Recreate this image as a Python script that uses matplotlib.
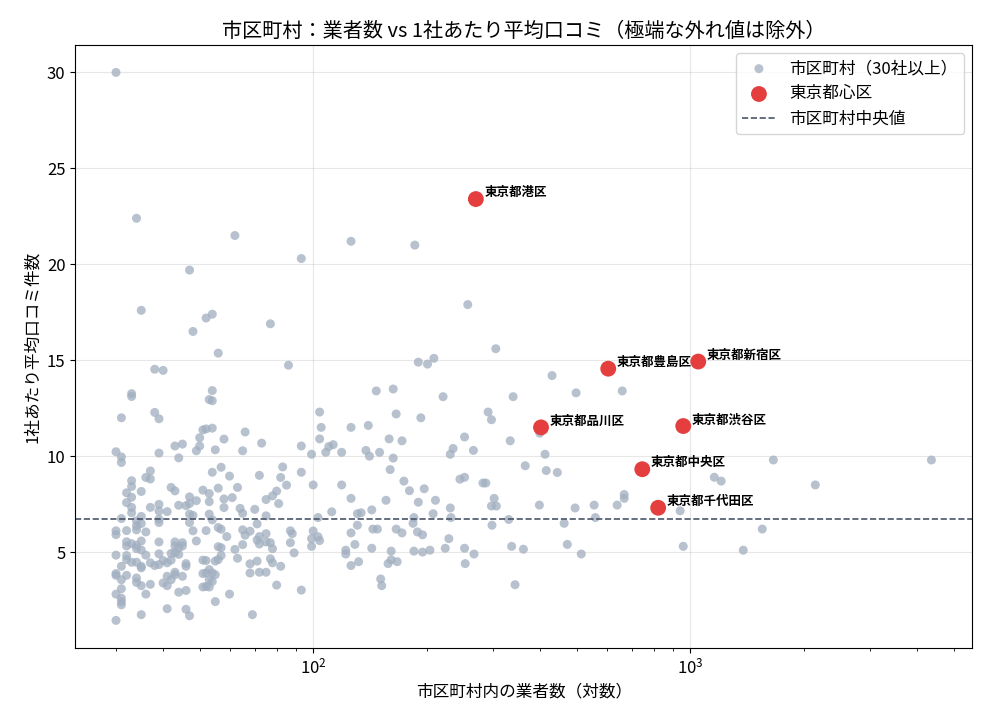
import numpy as np
import matplotlib
matplotlib.use("Agg")
import matplotlib.pyplot as plt

plt.rcParams['font.family'] = ['Noto Sans CJK JP', 'DejaVu Sans']
plt.rcParams['font.size'] = 12

# 市区町村（30社以上）: 業者数 と 1社あたり平均口コミ件数
shop_counts = [
    30, 34, 62, 93, 47, 35, 52, 54, 48, 77,
    56, 86, 38, 40, 33, 33, 54, 53, 54, 31, 38, 39, 51, 52, 54, 50, 58, 66, 73,
    30, 31, 31, 39, 43, 45, 44, 49, 50, 55, 65, 93, 37, 36, 37, 33, 33, 32, 33, 35,
    54, 57, 60, 72, 83, 82, 85, 93, 42, 43, 32, 33, 33, 31, 37, 39, 39, 41, 44, 46,
    47, 47, 49, 51, 53, 53, 56, 58, 58, 61, 63, 64, 65, 70, 75, 78, 80, 81, 75,
    35, 34, 34, 35, 34, 30, 30, 32, 36, 39, 39, 47, 48, 47, 48, 53, 54, 52, 56, 57,
    59, 65, 66, 68, 71, 75, 72, 87, 88, 87, 32, 32, 33, 34, 34, 35, 35, 30, 32, 32,
    33, 34, 35, 39, 39, 36, 43, 43, 45, 44, 45, 43, 42, 44, 49, 56, 57, 57, 56, 55,
    62, 65, 63, 71, 72, 75, 77, 78, 89, 31, 30, 30, 32, 31, 34, 34, 35, 35, 37, 38,
    39, 40, 41, 42, 46, 46, 51, 52, 51, 53, 52, 54, 55, 53, 54, 52, 53, 51, 68, 71,
    68, 72, 75, 77, 78, 82, 41, 43, 43, 45, 42, 40, 41, 37, 36, 30, 31, 31, 31, 31,
    44, 46, 55, 60, 80, 93, 41, 46, 47, 35, 30, 69,
    126, 186, 257, 305, 190, 201, 209, 147, 163, 221, 104, 105, 104, 126, 140, 166,
    193, 291, 297, 252, 159, 172,
    99, 108, 110, 113, 119, 138, 141, 150, 163, 160, 231, 235, 266, 100, 119, 126,
    112, 103, 100, 99, 103, 104, 99, 131, 134, 143, 156, 131, 126, 144, 148, 166,
    172, 129, 122, 122, 126, 132, 143, 161, 161, 158, 167, 151, 152, 174, 180, 197,
    190, 211, 185, 184, 189, 195, 185, 195, 204, 208, 231, 232, 245, 252, 282, 287,
    302, 297, 306, 298, 229, 224, 252, 267, 253,
    430, 339, 498, 660, 399, 333, 412, 365, 415, 444, 1661, 4360, 1158, 1208, 2146,
    668, 668, 640, 556, 495, 398, 940, 330, 463, 560, 1552, 336, 361, 472, 514, 958,
    1382, 343,
]
avg_reviews = [
    30.0, 22.4, 21.5, 20.3, 19.7, 17.6, 17.2, 17.4, 16.5, 16.9,
    15.37, 14.74, 14.53, 14.47, 13.26, 13.11, 13.42, 12.95, 12.89, 12.0, 12.28, 11.95,
    11.37, 11.42, 11.46, 10.96, 10.89, 11.26, 10.68,
    10.23, 9.96, 9.67, 10.16, 10.53, 10.63, 9.91, 10.28, 10.53, 10.33, 10.28, 10.53,
    9.23, 8.89, 8.81, 8.72, 8.42, 8.09, 7.86, 8.16,
    9.16, 9.42, 8.96, 9.0, 9.44, 8.89, 8.49, 9.16, 8.37, 8.19, 7.58, 7.33, 7.05, 6.75,
    7.33, 7.49, 7.14, 7.11, 7.44, 7.42,
    7.88, 7.53, 7.68, 8.23, 8.05, 7.63, 8.33, 7.77, 7.32, 7.84, 8.37, 7.28, 7.02, 7.23,
    7.74, 7.93, 8.18, 7.53, 6.89,
    6.86, 6.63, 6.37, 6.49, 6.16, 6.11, 5.91, 6.12, 6.05, 6.72, 6.54, 6.98, 6.91, 6.54,
    6.11, 6.98, 6.68, 6.12, 6.28, 6.19,
    5.81, 6.16, 5.88, 6.09, 6.47, 5.96, 5.81, 6.11, 5.96, 5.49, 5.54, 5.32, 5.44, 5.35,
    5.18, 5.58, 5.11, 4.84, 4.82, 4.61,
    4.47, 4.47, 4.26, 5.53, 4.91, 4.84, 5.53, 5.32, 5.49, 5.23, 5.32, 4.96, 4.93, 4.88,
    5.58, 5.28, 5.23, 4.82, 4.61, 4.53,
    5.14, 5.39, 4.68, 5.63, 5.42, 5.53, 5.49, 5.18, 4.96, 4.26, 3.88, 3.79, 3.79, 3.56,
    3.65, 3.42, 3.25, 4.18, 4.44, 4.30,
    4.35, 4.56, 4.44, 4.58, 4.40, 4.26, 4.58, 4.56, 3.88, 4.09, 3.91, 3.91, 3.82, 3.56,
    3.47, 3.21, 3.18, 3.18, 4.39, 4.53,
    3.91, 3.95, 3.95, 4.65, 4.44, 4.26, 3.74, 3.95, 3.82, 3.74, 3.56, 3.39, 3.25, 3.32,
    2.81, 2.81, 3.09, 2.60, 2.42, 2.25,
    2.91, 3.0, 2.42, 2.81, 3.28, 3.02, 2.05, 2.02, 1.68, 1.74, 1.44, 1.74,
    21.2, 21.0, 17.9, 15.6, 14.9, 14.8, 15.1, 13.4, 13.5, 13.1, 12.3, 11.5, 10.9, 11.5,
    11.6, 12.2, 12.0, 12.3, 11.9, 11.0, 10.9, 10.8,
    10.1, 10.2, 10.5, 10.6, 10.2, 10.3, 10.0, 10.2, 9.9, 9.3, 10.1, 10.4, 10.3, 8.5,
    8.5, 7.8, 7.1, 6.8, 6.1, 5.7, 5.8, 5.6, 5.3, 7.0, 7.05, 7.2, 7.7, 6.4, 6.0, 6.2,
    6.2, 6.2, 6.0, 5.4, 5.1, 4.9, 4.3, 4.5, 5.2, 5.05, 4.6, 4.4, 4.5, 3.6, 3.25, 8.7,
    8.2, 8.3, 7.6, 7.7, 6.8, 6.5, 6.05, 5.9, 5.05, 5.0, 5.1, 7.0, 7.3, 6.8, 8.8, 8.9,
    8.6, 8.6, 7.8, 7.4, 7.4, 6.4, 5.7, 5.2, 5.2, 4.9, 4.4,
    14.2, 13.1, 13.3, 13.4, 11.2, 10.8, 10.1, 9.5, 9.25, 9.15, 9.8, 9.8, 8.9, 8.7, 8.5,
    8.0, 7.8, 7.45, 7.45, 7.3, 7.45, 7.15, 6.7, 6.5, 6.8, 6.2, 5.3, 5.15, 5.4, 4.9,
    5.3, 5.1, 3.3,
]

# 東京都心区
ku_names = ['東京都港区', '東京都豊島区', '東京都新宿区', '東京都品川区',
            '東京都渋谷区', '東京都中央区', '東京都千代田区']
ku_counts = [270, 606, 1050, 402, 958, 746, 822]
ku_avg = [23.4, 14.56, 14.93, 11.5, 11.57, 9.32, 7.31]

median_avg = 6.75

fig, ax = plt.subplots(figsize=(9.9, 7.15), dpi=100)
fig.subplots_adjust(left=0.076, right=0.982, top=0.937, bottom=0.094)

ax.scatter(shop_counts, avg_reviews, s=42, color='#a0aec0', alpha=0.75,
           edgecolors='none', label='市区町村（30社以上）')
ax.scatter(ku_counts, ku_avg, s=130, color='#e53e3e', edgecolors='none',
           label='東京都心区', zorder=3)
for name, cx, cy in zip(ku_names, ku_counts, ku_avg):
    ax.annotate(name, (cx, cy), xytext=(6, 2), textcoords='offset points',
                fontsize=9, fontweight='bold', zorder=4)

ax.axhline(median_avg, color='#4a5568', linestyle='--', linewidth=1.2,
           label='市区町村中央値')

ax.set_xscale('log')
ax.set_xlabel('市区町村内の業者数（対数）')
ax.set_ylabel('1社あたり平均口コミ件数')
ax.set_title('市区町村：業者数 vs 1社あたり平均口コミ（極端な外れ値は除外）', fontsize=14.5)
ax.grid(True, alpha=0.3)
ax.legend(loc='upper right')

fig.savefig('out.png', dpi=100)
